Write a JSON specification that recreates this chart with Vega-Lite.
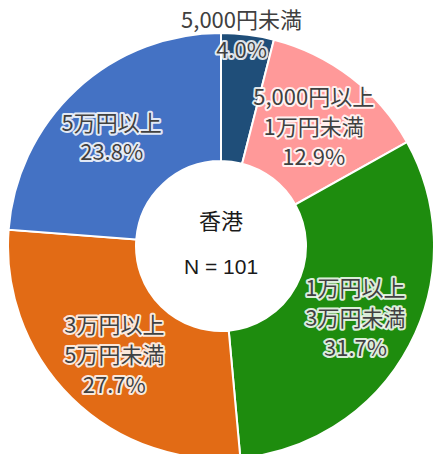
{
  "$schema": "https://vega.github.io/schema/vega-lite/v6.json",
  "width": 428,
  "height": 416,
  "padding": {"left": 7, "top": 38, "right": 0, "bottom": 0},
  "autosize": {"type": "none"},
  "background": "white",
  "config": {"view": {"stroke": null}},
  "data": {
    "values": [
      {"idx": 1, "cat": "5,000円未満", "pct": 4.0},
      {"idx": 2, "cat": "5,000円以上\n1万円未満", "pct": 12.9},
      {"idx": 3, "cat": "1万円以上\n3万円未満", "pct": 31.7},
      {"idx": 4, "cat": "3万円以上\n5万円未満", "pct": 27.7},
      {"idx": 5, "cat": "5万円以上", "pct": 23.8}
    ]
  },
  "transform": [
    {"calculate": "datum.cat + '\\n' + format(datum.pct, '.1f') + '%'", "as": "label"}
  ],
  "encoding": {
    "theta": {"field": "pct", "type": "quantitative", "stack": true},
    "order": {"field": "idx", "type": "quantitative"}
  },
  "layer": [
    {
      "mark": {"type": "arc", "outerRadius": 213, "innerRadius": 85, "stroke": "white", "strokeWidth": 2},
      "encoding": {
        "color": {
          "field": "cat",
          "type": "nominal",
          "sort": null,
          "scale": {
            "domain": ["5,000円未満", "5,000円以上\n1万円未満", "1万円以上\n3万円未満", "3万円以上\n5万円未満", "5万円以上"],
            "range": ["#1F4E79", "#FF9999", "#1E8C0E", "#E26B15", "#4472C4"]
          },
          "legend": null
        }
      }
    },
    {
      "mark": {"type": "text", "radius": 152, "dy": -28, "font": "Noto Sans CJK JP", "fontSize": 22, "lineBreak": "\n", "lineHeight": 30, "baseline": "middle", "align": "center", "stroke": "white", "strokeWidth": 4, "strokeJoin": "round", "strokeOpacity": 0.85, "fill": "white"},
      "encoding": {"text": {"condition": {"test": "datum.idx >= 2 && datum.idx <= 4", "field": "label"}, "value": ""}}
    },
    {
      "mark": {"type": "text", "radius": 152, "dy": -28, "font": "Noto Sans CJK JP", "fontSize": 22, "lineBreak": "\n", "lineHeight": 30, "baseline": "middle", "align": "center", "fill": "#404040"},
      "encoding": {"text": {"condition": {"test": "datum.idx >= 2 && datum.idx <= 4", "field": "label"}, "value": ""}}
    },
    {
      "mark": {"type": "text", "radius": 155, "dy": -8, "dx": -4, "font": "Noto Sans CJK JP", "fontSize": 22, "lineBreak": "\n", "lineHeight": 29, "baseline": "middle", "align": "center", "stroke": "white", "strokeWidth": 4, "strokeJoin": "round", "strokeOpacity": 0.85, "fill": "white"},
      "encoding": {"text": {"condition": {"test": "datum.idx == 5", "field": "label"}, "value": ""}}
    },
    {
      "mark": {"type": "text", "radius": 155, "dy": -8, "dx": -4, "font": "Noto Sans CJK JP", "fontSize": 22, "lineBreak": "\n", "lineHeight": 29, "baseline": "middle", "align": "center", "fill": "#404040"},
      "encoding": {"text": {"condition": {"test": "datum.idx == 5", "field": "label"}, "value": ""}}
    },
    {
      "mark": {"type": "text", "radius": 212, "dy": -15, "dx": -6, "font": "Noto Sans CJK JP", "fontSize": 22, "lineBreak": "\n", "lineHeight": 30, "baseline": "middle", "align": "center", "stroke": "white", "strokeWidth": 4, "strokeJoin": "round", "strokeOpacity": 0.85, "fill": "white"},
      "encoding": {"text": {"condition": {"test": "datum.idx == 1", "field": "label"}, "value": ""}}
    },
    {
      "mark": {"type": "text", "radius": 212, "dy": -15, "dx": -6, "font": "Noto Sans CJK JP", "fontSize": 22, "lineBreak": "\n", "lineHeight": 30, "baseline": "middle", "align": "center", "fill": "#404040"},
      "encoding": {"text": {"condition": {"test": "datum.idx == 1", "field": "label"}, "value": ""}}
    },
    {
      "data": {"values": [{"t": "香港"}]},
      "mark": {"type": "text", "dy": -24, "font": "Noto Sans CJK JP", "fontSize": 22, "baseline": "middle", "align": "center", "fill": "#1a1a1a"},
      "encoding": {"text": {"field": "t"}, "theta": null, "order": null}
    },
    {
      "data": {"values": [{"t": "N = 101"}]},
      "mark": {"type": "text", "dy": 22, "font": "Liberation Sans", "fontSize": 21, "baseline": "middle", "align": "center", "fill": "#1a1a1a"},
      "encoding": {"text": {"field": "t"}, "theta": null, "order": null}
    }
  ]
}
